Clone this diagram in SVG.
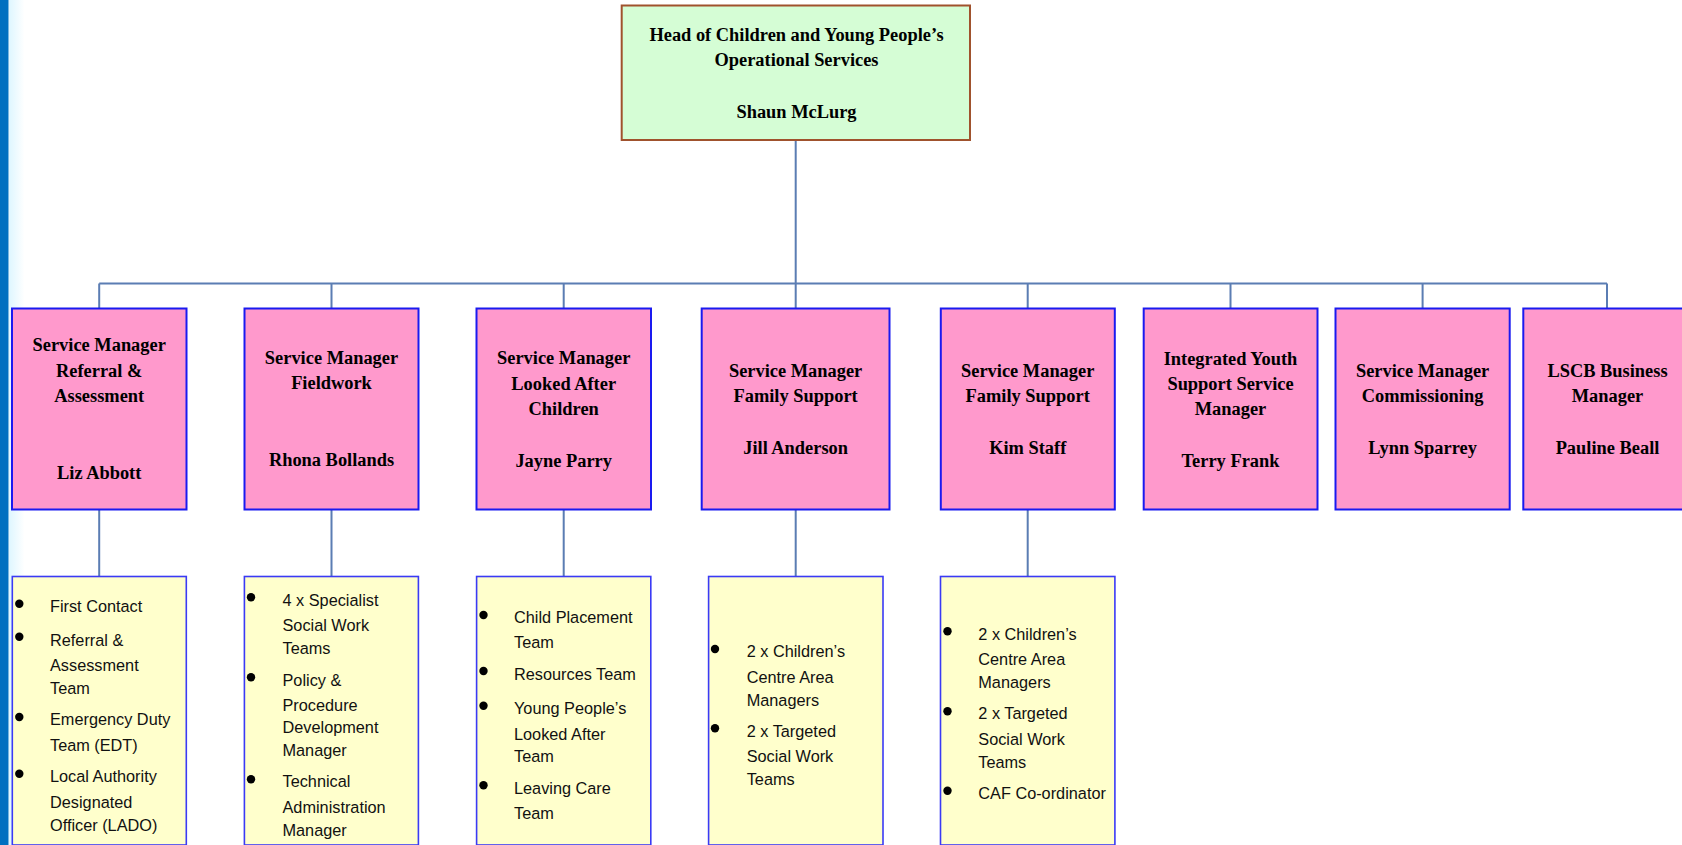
<svg xmlns="http://www.w3.org/2000/svg" width="1682" height="845" viewBox="0 0 1682 845">
<defs>
<linearGradient id="edge" x1="0" y1="0" x2="1" y2="0">
<stop offset="0" stop-color="#DDF6FF"/>
<stop offset="1" stop-color="#FFFFFF"/>
</linearGradient>
</defs>
<style>
.top{fill:#D5FDD5;stroke:#A0522D;stroke-width:2}
.mgr{fill:#FF99CC;stroke:#1A1AF0;stroke-width:2}
.team{fill:#FFFFCC;stroke:#3A3AF5;stroke-width:1.6}
.conn{stroke:#5B7DB3;stroke-width:2;fill:none}
.t{font-family:"Liberation Serif","Times New Roman",serif;font-weight:bold;font-size:18.4px;fill:#000;text-anchor:middle}
.l{font-family:"Liberation Sans",Arial,sans-serif;font-size:16.3px;fill:#111}
.b{fill:#000}
</style>
<rect x="0" y="0" width="1682" height="845" fill="#FFFFFF"/>
<rect x="8.5" y="0" width="16" height="845" fill="url(#edge)"/>
<rect x="0" y="0" width="8.5" height="845" fill="#0070C0"/>

<g id="connectors">
<path class="conn" d="M795.7 140 V283.5 M99.2 283.5 H1607 M99.2 283.5 V308.5 M331.5 283.5 V308.5 M563.7 283.5 V308.5 M795.7 283.5 V308.5 M1027.7 283.5 V308.5 M1230.5 283.5 V308.5 M1422.6 283.5 V308.5 M1607 283.5 V308.5 M99.2 509.5 V576.5 M331.5 509.5 V576.5 M563.7 509.5 V576.5 M795.7 509.5 V576.5 M1027.7 509.5 V576.5"/>
</g>

<g id="head">
<rect class="top" x="621.7" y="5.5" width="348.3" height="134.5"/>
<text class="t" x="796.5" y="40.5">Head of Children and Young People’s</text>
<text class="t" x="796.5" y="65.8">Operational Services</text>
<text class="t" x="796.5" y="118">Shaun McLurg</text>
</g>

<g id="sm-referral">
<rect class="mgr" x="12" y="308.5" width="174.5" height="201"/>
<text class="t" x="99.2" y="351">Service Manager</text>
<text class="t" x="99.2" y="376.7">Referral &amp;</text>
<text class="t" x="99.2" y="402.3">Assessment</text>
<text class="t" x="99.2" y="479.3">Liz Abbott</text>
</g>

<g id="sm-fieldwork">
<rect class="mgr" x="244.5" y="308.5" width="174" height="201"/>
<text class="t" x="331.5" y="363.5">Service Manager</text>
<text class="t" x="331.5" y="389.3">Fieldwork</text>
<text class="t" x="331.5" y="466">Rhona Bollands</text>
</g>

<g id="sm-lac">
<rect class="mgr" x="476.5" y="308.5" width="174.5" height="201"/>
<text class="t" x="563.7" y="363.7">Service Manager</text>
<text class="t" x="563.7" y="389.5">Looked After</text>
<text class="t" x="563.7" y="415.2">Children</text>
<text class="t" x="563.7" y="466.7">Jayne Parry</text>
</g>

<g id="sm-family1">
<rect class="mgr" x="701.7" y="308.5" width="187.8" height="201"/>
<text class="t" x="795.6" y="376.7">Service Manager</text>
<text class="t" x="795.6" y="402.3">Family Support</text>
<text class="t" x="795.6" y="453.5">Jill Anderson</text>
</g>

<g id="sm-family2">
<rect class="mgr" x="940.8" y="308.5" width="174" height="201"/>
<text class="t" x="1027.7" y="376.7">Service Manager</text>
<text class="t" x="1027.7" y="402.3">Family Support</text>
<text class="t" x="1027.7" y="453.5">Kim Staff</text>
</g>

<g id="iyss">
<rect class="mgr" x="1143.7" y="308.5" width="173.8" height="201"/>
<text class="t" x="1230.5" y="364.5">Integrated Youth</text>
<text class="t" x="1230.5" y="390">Support Service</text>
<text class="t" x="1230.5" y="415.2">Manager</text>
<text class="t" x="1230.5" y="466.7">Terry Frank</text>
</g>

<g id="sm-commissioning">
<rect class="mgr" x="1335.5" y="308.5" width="174.2" height="201"/>
<text class="t" x="1422.6" y="376.7">Service Manager</text>
<text class="t" x="1422.6" y="402.3">Commissioning</text>
<text class="t" x="1422.6" y="453.7">Lynn Sparrey</text>
</g>

<g id="lscb">
<rect class="mgr" x="1523.3" y="308.5" width="180" height="201"/>
<text class="t" x="1607.5" y="377">LSCB Business</text>
<text class="t" x="1607.5" y="402">Manager</text>
<text class="t" x="1607.5" y="453.5">Pauline Beall</text>
</g>

<g id="teams-referral">
<rect class="team" x="12.3" y="576.5" width="174" height="268.5"/>
<circle class="b" cx="19.3" cy="603.7" r="4.2"/>
<circle class="b" cx="19.3" cy="636.7" r="4.2"/>
<circle class="b" cx="19.3" cy="717" r="4.2"/>
<circle class="b" cx="19.3" cy="773.7" r="4.2"/>
<text class="l" x="50" y="611.5">First Contact</text>
<text class="l" x="50" y="645.5">Referral &amp;</text>
<text class="l" x="50" y="671.3">Assessment</text>
<text class="l" x="50" y="694">Team</text>
<text class="l" x="50" y="725.3">Emergency Duty</text>
<text class="l" x="50" y="750.7">Team (EDT)</text>
<text class="l" x="50" y="782.2">Local Authority</text>
<text class="l" x="50" y="807.5">Designated</text>
<text class="l" x="50" y="830.5">Officer (LADO)</text>
</g>

<g id="teams-fieldwork">
<rect class="team" x="244.4" y="576.5" width="174" height="268.5"/>
<circle class="b" cx="251" cy="597.3" r="4.2"/>
<circle class="b" cx="251" cy="677.3" r="4.2"/>
<circle class="b" cx="251" cy="779.3" r="4.2"/>
<text class="l" x="282.5" y="605.7">4 x Specialist</text>
<text class="l" x="282.5" y="631.2">Social Work</text>
<text class="l" x="282.5" y="654">Teams</text>
<text class="l" x="282.5" y="685.5">Policy &amp;</text>
<text class="l" x="282.5" y="710.7">Procedure</text>
<text class="l" x="282.5" y="733.3">Development</text>
<text class="l" x="282.5" y="756">Manager</text>
<text class="l" x="282.5" y="787.2">Technical</text>
<text class="l" x="282.5" y="813">Administration</text>
<text class="l" x="282.5" y="836">Manager</text>
</g>

<g id="teams-lac">
<rect class="team" x="476.6" y="576.5" width="174.2" height="268.5"/>
<circle class="b" cx="483.5" cy="615" r="4.2"/>
<circle class="b" cx="483.5" cy="671" r="4.2"/>
<circle class="b" cx="483.5" cy="705.7" r="4.2"/>
<circle class="b" cx="483.5" cy="785.3" r="4.2"/>
<text class="l" x="514" y="623">Child Placement</text>
<text class="l" x="514" y="648">Team</text>
<text class="l" x="514" y="680">Resources Team</text>
<text class="l" x="514" y="714.2">Young People’s</text>
<text class="l" x="514" y="740">Looked After</text>
<text class="l" x="514" y="762.3">Team</text>
<text class="l" x="514" y="793.7">Leaving Care</text>
<text class="l" x="514" y="818.5">Team</text>
</g>

<g id="teams-family1">
<rect class="team" x="708.6" y="576.5" width="174.4" height="268.5"/>
<circle class="b" cx="715" cy="649" r="4.2"/>
<circle class="b" cx="715" cy="728.3" r="4.2"/>
<text class="l" x="746.7" y="656.5">2 x Children’s</text>
<text class="l" x="746.7" y="683.1">Centre Area</text>
<text class="l" x="746.7" y="705.5">Managers</text>
<text class="l" x="746.7" y="736.6">2 x Targeted</text>
<text class="l" x="746.7" y="761.8">Social Work</text>
<text class="l" x="746.7" y="784.9">Teams</text>
</g>

<g id="teams-family2">
<rect class="team" x="940.5" y="576.5" width="174.4" height="268.5"/>
<circle class="b" cx="947.5" cy="631.3" r="4.2"/>
<circle class="b" cx="947.5" cy="711.3" r="4.2"/>
<circle class="b" cx="947.5" cy="790.7" r="4.2"/>
<text class="l" x="978.3" y="639.5">2 x Children’s</text>
<text class="l" x="978.3" y="665">Centre Area</text>
<text class="l" x="978.3" y="688.3">Managers</text>
<text class="l" x="978.3" y="719.3">2 x Targeted</text>
<text class="l" x="978.3" y="744.5">Social Work</text>
<text class="l" x="978.3" y="767.5">Teams</text>
<text class="l" x="978.3" y="798.7">CAF Co-ordinator</text>
</g>
</svg>
